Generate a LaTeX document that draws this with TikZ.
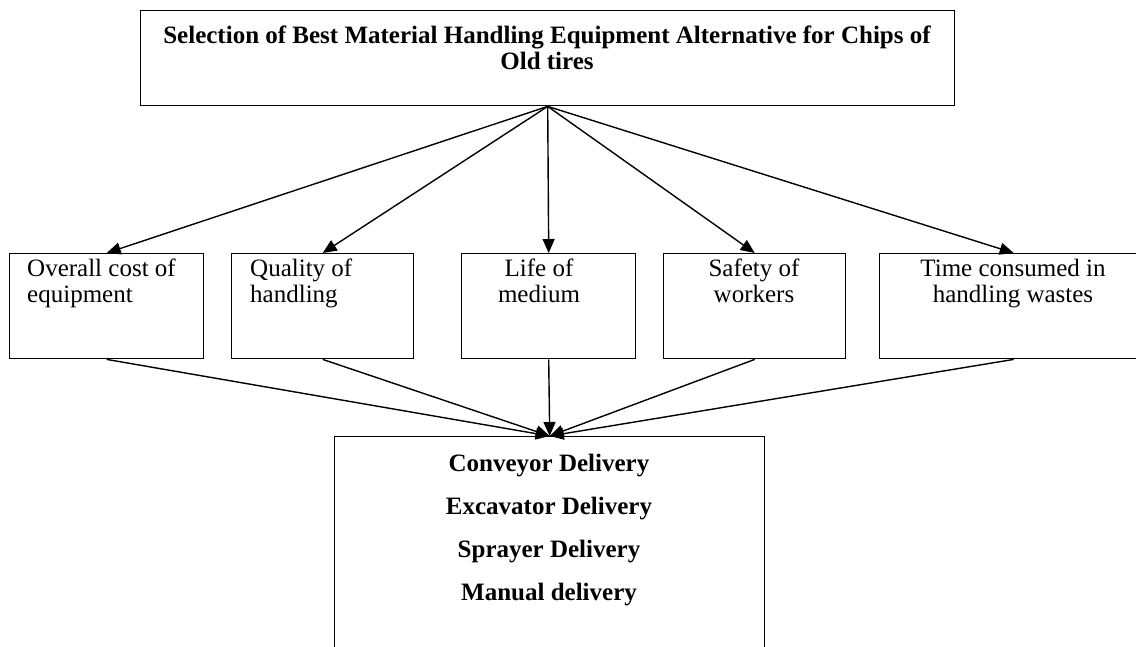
\documentclass[tikz,border=0pt]{standalone}
\usepackage{fontspec}
\setmainfont{Liberation Serif}
\usetikzlibrary{arrows.meta}
\begin{document}
\begin{tikzpicture}[x=1pt,y=-1pt,
  box/.style={draw,line width=1.4pt,inner sep=0pt,anchor=north west},
  crit/.style={box,minimum height=105pt},
  flow/.style={line width=1.4pt,-{Triangle[length=14pt,width=12pt]}},
  lbl/.style={inner sep=0pt,anchor=base}]
\useasboundingbox (0,0) rectangle (1136,646);
\clip (0,0) rectangle (1136,646);

% goal
\node[box,minimum width=814pt,minimum height=95pt] (goal) at (140,10) {};
\node[lbl] (goaltext) at (547,43) {\parbox[t]{805pt}{\centering\bfseries
  \fontsize{25}{26}\selectfont\lineskiplimit=-100pt
  Selection of Best Material Handling Equipment Alternative for Chips of\\Old tires}};

% criteria
\node[crit,minimum width=194pt] (c1) at (9,253) {};
\node[crit,minimum width=182pt] (c2) at (231,253) {};
\node[crit,minimum width=174pt] (c3) at (461,253) {};
\node[crit,minimum width=182pt] (c4) at (663,253) {};
\node[crit,minimum width=268pt] (c5) at (879,253) {};

\node[lbl,anchor=base west] (t1) at (27,276) {\parbox[t]{172pt}{\raggedright
  \fontsize{25}{26}\selectfont\lineskiplimit=-100pt Overall cost of\\equipment}};
\node[lbl,anchor=base west] (t2) at (250,276) {\parbox[t]{160pt}{\raggedright
  \fontsize{25}{26}\selectfont\lineskiplimit=-100pt Quality of\\handling}};
\node[lbl] (t3) at (539,276) {\parbox[t]{160pt}{\centering
  \fontsize{25}{26}\selectfont\lineskiplimit=-100pt Life of\\medium}};
\node[lbl] (t4) at (754,276) {\parbox[t]{170pt}{\centering
  \fontsize{25}{26}\selectfont\lineskiplimit=-100pt Safety of\\workers}};
\node[lbl] (t5) at (1013,276) {\parbox[t]{250pt}{\centering
  \fontsize{25}{26}\selectfont\lineskiplimit=-100pt Time consumed in\\handling wastes}};

% alternatives
\node[box,minimum width=430pt,minimum height=240pt] (alts) at (334,436) {};
\node[lbl] (altstext) at (549,471) {\parbox[t]{400pt}{\centering\bfseries
  \fontsize{25}{43}\selectfont
  Conveyor Delivery\\Excavator Delivery\\Sprayer Delivery\\Manual delivery}};

% connectors
\foreach \c in {c1,c2,c3,c4,c5}{
  \draw[flow] (goal.south) -- (\c.north);
  \draw[flow] (\c.south) -- (alts.north);
}
\end{tikzpicture}
\end{document}
